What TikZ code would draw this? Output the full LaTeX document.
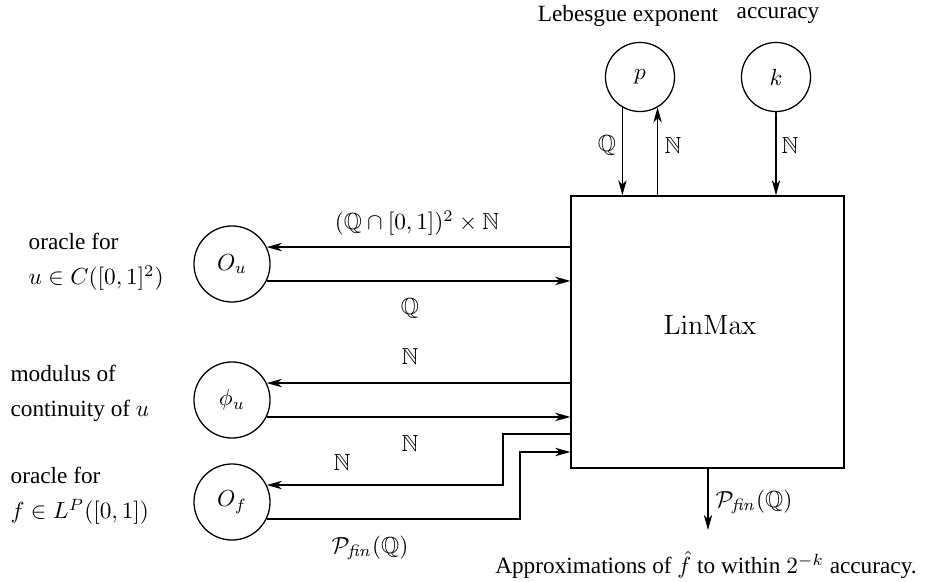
\documentclass[tikz,border=0pt]{standalone}
\usepackage{amssymb}
\usepackage[no-math]{fontspec}
\setmainfont{Liberation Serif}
\usetikzlibrary{arrows.meta,calc}
\begin{document}
\begin{tikzpicture}[x=0.43pt,y=-0.43pt, line width=0.55pt,
  arr/.style={-{Stealth[length=6.5pt,width=3.6pt,inset=1.9pt]}},
  bigcirc/.style={circle,draw,minimum size=32.7pt,inner sep=0pt},
  smallcirc/.style={circle,draw,minimum size=29.7pt,inner sep=0pt},
  lbl/.style={inner sep=0pt},
  desc/.style={align=left,anchor=west,inner sep=0pt,font={\fontsize{10}{15}\selectfont}}]
\useasboundingbox (0,0) rectangle (925,582);

% main box
\node[draw,minimum width=117.4pt,minimum height=117pt,inner sep=0pt] (lm) at (707.5,332) {};
\node[lbl] (lmt) at (710,325) {\fontsize{11.5}{14}\selectfont$\mathrm{LinMax}$};

% circles
\node[smallcirc] (p) at (640,77) {$p$};
\node[smallcirc] (k) at (776,77) {$k$};
\node[bigcirc] (ou) at (232,264) {$O_u$};
\node[bigcirc] (phi) at (232,400) {$\phi_u$};
\node[bigcirc] (of) at (232,502) {$O_f$};

% top labels
\node[lbl] (lleb) at (628,16) {Lebesgue exponent};
\node[lbl] (lacc) at (778,16) {accuracy};

% top arrows
\draw[arr] (p.240) -- (p.240 |- lm.north);
\draw[arr] (p.300 |- lm.north) -- (p.300);
\draw[arr] (k) -- (k |- lm.north);
\node[lbl] (tq) at (607,145) {$\mathbb{Q}$};
\node[lbl] (tn) at (673,145) {$\mathbb{N}$};
\node[lbl] (tk) at (790,145) {$\mathbb{N}$};

% O_u
\draw[arr] (lm.west |- ou.26.6) -- (ou.26.6);
\draw[arr] (ou.-26.6) -- (lm.west |- ou.-26.6);
\node[lbl] (l1) at (417,223) {$(\mathbb{Q}\cap[0,1])^2\times\mathbb{N}$};
\node[lbl] (l2) at (410,308) {$\mathbb{Q}$};

% phi_u
\draw[arr] (lm.west |- phi.26.6) -- (phi.26.6);
\draw[arr] (phi.-26.6) -- (lm.west |- phi.-26.6);
\node[lbl] (l3) at (410,356) {$\mathbb{N}$};
\node[lbl] (l4) at (410,443) {$\mathbb{N}$};

% O_f
\coordinate (ka) at (503,434);
\coordinate (kb) at (520,452);
\draw[arr] (lm.west |- ka) -- (ka) -- (ka |- of.26.6) -- (of.26.6);
\draw[arr] (of.-26.6) -- (kb |- of.-26.6) -- (kb) -- (lm.west |- kb);
\node[lbl] (l5) at (342,462) {$\mathbb{N}$};
\node[lbl] (l6) at (370,548) {$\mathcal{P}_{\mathit{fin}}(\mathbb{Q})$};

% output
\coordinate (oend) at (708,530);
\draw[arr] (oend |- lm.south) -- (oend);
\node[lbl] (l7) at (754,502) {$\mathcal{P}_{\mathit{fin}}(\mathbb{Q})$};
\node[lbl] (apx) at (706,565) {Approximations of $\hat{f}$ to within $2^{-k}$ accuracy.};

% left descriptions
\node[desc] (d1) at (28,262) {oracle for\\$u\in C([0,1]^2)$};
\node[desc] (d2) at (10,393) {modulus of\\continuity of $u$};
\node[desc] (d3) at (10,496) {oracle for\\$f\in L^P([0,1])$};
\end{tikzpicture}
\end{document}
